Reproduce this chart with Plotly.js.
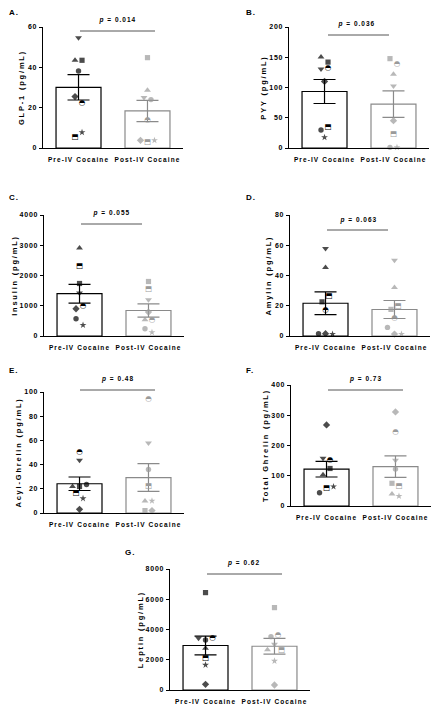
<!DOCTYPE html>
<html><head><meta charset="utf-8">
<script src="https://cdn.plot.ly/plotly-3.0.1.min.js"></script>
<style>
html,body{margin:0;padding:0;background:#fff;}
#chart{width:440px;height:712px;}
#chart g[class^="x"][class$="tick"] text{letter-spacing:1.1px;}
#chart g[class^="y"][class$="tick"] text{letter-spacing:0.8px;}
#chart text[class*="title"]{letter-spacing:1.8px;}
#chart .annotation-text{letter-spacing:1px;}
</style></head><body><div id="chart"></div>
<script>
// ---------- data ----------
const categories = ['Pre-IV Cocaine', 'Post-IV Cocaine'];
// subject order used in every value array below
const subjectSymbols = ['triangle-up', 'square', 'triangle-down', 'circle', 'diamond', 'half-square', 'star', 'half-circle'];
const panelLetters = ['A.', 'B.', 'C.', 'D.', 'E.', 'F.', 'G.'];
const yTitles = ['GLP-1 (pg/mL)', 'PYY (pg/mL)', 'Insulin (pg/mL)', 'Amylin (pg/mL)', 'Acyl-Ghrelin (pg/mL)', 'Total Ghrelin (pg/mL)', 'Leptin (pg/mL)'];
const pValues = ['0.014', '0.036', '0.055', '0.063', '0.48', '0.73', '0.62'];
const yMax = [60, 200, 4000, 80, 100, 400, 8000];
const yStep = [20, 50, 1000, 20, 20, 100, 2000];

const glp1Pre = [43.5, 43.5, 54.7, 38.2, 25.5, 5.5, 7.8, 22.1];
const glp1Post = [28.6, 44.8, 25.0, 24.0, 3.8, 3.1, 3.8, 13.9];
const pyyPre = [150.4, 142, 130.6, 29.8, 110, 34.7, 17.6, 132];
const pyyPost = [121.8, 147.7, 102.5, 1.1, 45.2, 23.1, 1.0, 138.3];
const insulinPre = [2912, 1736, 1418, 571, 901, 2297, 363, 1000];
const insulinPost = [538, 1802, 1198, 241, 791, 1538, 121, 516];
const amylinPre = [45.3, 22.6, 57.8, 1.5, 1.5, 26.2, 1.3, 17.1];
const amylinPost = [32.1, 17.6, 50.1, 5.7, 1.3, 20.0, 1.3, 12.1];
const acylPre = [21.9, 21.9, 43.6, 23.6, 3.0, 16.7, 12.0, 50.7];
const acylPost = [10.0, 2.0, 57.8, 35.9, 2.0, 22.5, 10.0, 94.2];
const totalGhrelinPre = [103, 124, 158, 44, 268, 59, 64, 153];
const totalGhrelinPost = [40, 75, 151, 122, 311, 65, 33, 243];
const leptinPre = [2756, 6439, 3418, 3308, 375, 2117, 1654, 3462];
const leptinPost = [2668, 5447, 3021, 3528, 331, 2624, 1918, 3616];

const preSets = [glp1Pre, pyyPre, insulinPre, amylinPre, acylPre, totalGhrelinPre, leptinPre];
const postSets = [glp1Post, pyyPost, insulinPost, amylinPost, acylPost, totalGhrelinPost, leptinPost];

// ---------- layout (pixels) ----------
const W = 440, H = 712, PW = 140;
const boxes = [
  {left: 43,  top: 27,  bottom: 148, letter: [8, 13],   line: [80, 155, 31],   ptext: [117, 20]},
  {left: 289, top: 27,  bottom: 148, letter: [245, 13], line: [328, 389, 35],  ptext: [356, 24]},
  {left: 44,  top: 215, bottom: 336, letter: [8, 197],  line: [81, 142, 224],  ptext: [112, 213]},
  {left: 290, top: 215, bottom: 336, letter: [245, 197],line: [327, 388, 230], ptext: [358, 220]},
  {left: 44,  top: 392, bottom: 513, letter: [8, 370],  line: [80, 155, 390],  ptext: [117, 379]},
  {left: 291, top: 385, bottom: 506, letter: [245, 370],line: [328, 403, 390], ptext: [365, 379]},
  {left: 170, top: 569, bottom: 690, letter: [124, 552],line: [207, 282, 574], ptext: [243, 563]}
];
const xRange = [-0.515, 1.515];
const pxPerUnit = PW / (xRange[1] - xRange[0]);
const BLACK = '#000000', GREY = '#9a9a9a', GREY_LINE = '#8a8a8a';
const FONT = 'Liberation Sans, Arial, sans-serif';
const symbolSize = {'triangle-up': 6, 'triangle-down': 6, 'square': 5.2, 'circle': 5.4, 'diamond': 5.6, 'star': 5.2};

const px = x => x / W;
const py = y => 1 - y / H;

function meanOf(a) { return a.reduce((s, v) => s + v, 0) / a.length; }
function semOf(a) {
  const m = meanOf(a);
  const v = a.reduce((s, x) => s + (x - m) * (x - m), 0) / (a.length - 1);
  return Math.sqrt(v) / Math.sqrt(a.length);
}
// symmetric row spreading like a scatter dot plot
function swarm(values, maxV, heightPx, center) {
  const idx = values.map((v, i) => i).sort((a, b) => values[b] - values[a] || a - b);
  const xs = new Array(values.length).fill(center);
  let row = [];
  const flush = () => {
    row.sort((a, b) => a - b);
    row.forEach((k, j) => { xs[k] = center + ((j - (row.length - 1) / 2) * 7) / pxPerUnit; });
    row = [];
  };
  idx.forEach(k => {
    const p = values[k] / maxV * heightPx;
    if (row.length && Math.abs(values[row[0]] / maxV * heightPx - p) > 7) flush();
    row.push(k);
  });
  flush();
  return xs;
}

const traces = [];
const layout = {
  width: W, height: H, margin: {l: 0, r: 0, t: 0, b: 0},
  paper_bgcolor: '#fff', plot_bgcolor: 'rgba(0,0,0,0)', showlegend: false,
  annotations: [], shapes: []
};

const halfGlyph = {'half-square': '\u2B12', 'half-circle': '\u25D3'};

boxes.forEach((b, i) => {
  const n = i + 1;
  const xa = n === 1 ? 'x' : 'x' + n;
  const ya = n === 1 ? 'y' : 'y' + n;
  const hPx = b.bottom - b.top;
  const groups = [preSets[i], postSets[i]];
  groups.forEach((vals, g) => {
    const col = g === 0 ? BLACK : GREY_LINE;
    traces.push({
      type: 'bar', x: [g], y: [meanOf(vals)], width: 0.652,
      xaxis: xa, yaxis: ya,
      marker: {color: '#ffffff', line: {color: col, width: 1.2}},
      error_y: {type: 'data', array: [semOf(vals)], visible: true, color: col, thickness: 1.2, width: 11},
      hoverinfo: 'skip'
    });
  });
  groups.forEach((vals, g) => {
    const mcol = g === 0 ? BLACK : GREY;
    const xs = swarm(vals, yMax[i], hPx, g);
    const reg = [], half = [];
    vals.forEach((v, k) => (halfGlyph[subjectSymbols[k]] ? half : reg).push(k));
    traces.push({
      type: 'scatter', mode: 'markers', xaxis: xa, yaxis: ya, cliponaxis: false,
      x: reg.map(k => xs[k]), y: reg.map(k => vals[k]),
      marker: {symbol: reg.map(k => subjectSymbols[k]), color: mcol,
               size: reg.map(k => symbolSize[subjectSymbols[k]]), line: {width: 0}},
      hoverinfo: 'skip'
    });
    traces.push({
      type: 'scatter', mode: 'text', xaxis: xa, yaxis: ya, cliponaxis: false,
      x: half.map(k => xs[k]), y: half.map(k => vals[k]),
      text: half.map(k => halfGlyph[subjectSymbols[k]]),
      textposition: 'middle center',
      textfont: {family: 'DejaVu Sans', size: 7.5, color: mcol},
      hoverinfo: 'skip'
    });
  });

  const ticks = [];
  for (let t = 0; t <= yMax[i] + 1e-9; t += yStep[i]) ticks.push(t);

  layout[n === 1 ? 'xaxis' : 'xaxis' + n] = {
    domain: [px(b.left), px(b.left + PW)], anchor: ya, range: xRange,
    tickvals: [0, 1], ticktext: categories, ticks: '', showgrid: false, zeroline: false,
    showline: true, linecolor: BLACK, linewidth: 1.3, ticklabelstandoff: 5,
    tickfont: {family: FONT, size: 6.5, color: BLACK, weight: 'bold'}, fixedrange: true
  };
  layout[n === 1 ? 'yaxis' : 'yaxis' + n] = {
    domain: [py(b.bottom), py(b.top)], anchor: xa, range: [0, yMax[i]],
    tickvals: ticks, ticks: 'outside', ticklen: 3, tickwidth: 1, tickcolor: BLACK,
    showgrid: false, zeroline: false, showline: true, linecolor: BLACK, linewidth: 1.3,
    tickfont: {family: FONT, size: 7, color: BLACK, weight: 'bold'},
    title: {text: yTitles[i], standoff: 4, font: {family: FONT, size: 7.5, color: BLACK, weight: 'bold'}},
    fixedrange: true
  };

  layout.annotations.push({
    xref: 'paper', yref: 'paper', x: px(b.letter[0]), y: py(b.letter[1]),
    xanchor: 'left', yanchor: 'middle', showarrow: false,
    text: '<b>' + panelLetters[i] + '</b>', font: {family: FONT, size: 8, color: BLACK}
  });
  layout.annotations.push({
    xref: 'paper', yref: 'paper', x: px(b.ptext[0]), y: py(b.ptext[1]),
    xanchor: 'center', yanchor: 'middle', showarrow: false,
    text: '<b><i>p</i> = ' + pValues[i] + '</b>', font: {family: FONT, size: 6.5, color: BLACK}
  });
  layout.shapes.push({
    type: 'line', xref: 'paper', yref: 'paper',
    x0: px(b.line[0]), x1: px(b.line[1]), y0: py(b.line[2]), y1: py(b.line[2]),
    line: {color: '#555555', width: 1}
  });
});

Plotly.newPlot('chart', traces, layout, {staticPlot: true, displayModeBar: false});
</script></body></html>
